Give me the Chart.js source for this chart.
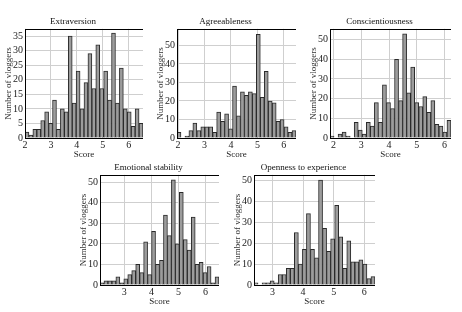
<!DOCTYPE html>
<html>
<head>
<meta charset="utf-8">
<script src="https://cdn.jsdelivr.net/npm/chart.js@4.4.1/dist/chart.umd.min.js"></script>
<style>
  body { margin: 0; background: #fff; width: 462px; height: 312px; position: relative; overflow: hidden; }
  canvas { position: absolute; }
</style>
</head>
<body>
<canvas id="c0"></canvas>
<canvas id="c1"></canvas>
<canvas id="c2"></canvas>
<canvas id="c3"></canvas>
<canvas id="c4"></canvas>
<script>
// data (30 bins each)
const titles = ['Extraversion', 'Agreeableness', 'Conscientiousness', 'Emotional stability', 'Openness to experience'];
const extraversion = [2,1,3,3,6,9,5,13,3,10,9,35,12,23,10,19,29,17,32,17,23,13,36,12,24,10,9,4,10,5];
const agreeableness = [3,0,1,4,8,4,6,6,6,3,14,9,13,5,28,12,25,23,25,24,56,22,36,20,19,9,10,6,3,4];
const conscientiousness = [1,0,2,3,1,0,8,4,2,8,6,18,8,27,18,15,40,19,53,23,36,18,16,21,13,19,7,6,3,9];
const emotionalStability = [1,2,2,2,4,1,3,5,7,10,6,21,5,26,10,12,34,24,51,20,45,22,17,33,10,11,6,9,1,4];
const openness = [1,0,1,1,2,1,5,5,8,8,25,10,17,34,17,13,50,27,16,22,38,23,8,21,11,11,12,10,3,4];
const counts = [extraversion, agreeableness, conscientiousness, emotionalStability, openness];
// score range covered by the bins, count axis top and tick step
const scoreMin = [2.0, 1.96, 1.875, 2.1, 2.4];
const scoreMax = [6.55, 6.46, 6.23, 6.5, 6.35];
const countMax = [37.5, 59, 55.5, 53.5, 52.5];
const countStep = [5, 10, 10, 10, 10];

// plot area boxes on the page: left, top, right, bottom
const boxes = [
  [25, 29, 138, 138],
  [177, 29, 291, 138],
  [330, 29, 446, 138],
  [100, 175, 214, 285],
  [254, 175, 370, 285]
];

const FONT = 'Liberation Serif, Times New Roman, serif';
const yW = 22, xH = 22, titleH = 14.8, rightPad = 5;

const frame = {
  id: 'frame',
  afterDatasetsDraw(chart) {
    const { ctx, chartArea: a } = chart;
    ctx.save();
    ctx.strokeStyle = '#000';
    ctx.lineWidth = 1;
    ctx.strokeRect(Math.round(a.left) + 0.5, Math.round(a.top) + 0.5,
      Math.round(a.right - a.left), Math.round(a.bottom - a.top));
    ctx.restore();
  }
};

function makeChart(i) {
  const [l, t, r, b] = boxes[i];
  const cv = document.getElementById('c' + i);
  cv.width = r - l + yW + rightPad;
  cv.height = Math.round(titleH + (b - t) + xH);
  cv.style.left = (l - yW) + 'px';
  cv.style.top = Math.round(t - titleH) + 'px';

  const step = countStep[i];
  new Chart(cv, {
    type: 'bar',
    data: {
      labels: counts[i].map((_, k) => k),
      datasets: [{
        data: counts[i],
        backgroundColor: '#9c9c9c',
        borderColor: '#2a2a2a',
        borderWidth: 1,
        barPercentage: 1,
        categoryPercentage: 1
      }]
    },
    options: {
      responsive: false,
      animation: false,
      layout: { padding: 0 },
      plugins: {
        legend: { display: false },
        tooltip: { enabled: false },
        title: {
          display: true,
          text: titles[i],
          color: '#111',
          font: { family: FONT, size: 9, weight: 'normal', lineHeight: 1.2 },
          padding: { top: 2, bottom: 2 }
        }
      },
      scales: {
        x: { type: 'category', display: false },
        score: {
          type: 'linear', axis: 'x', position: 'bottom',
          min: scoreMin[i], max: scoreMax[i],
          offset: false,
          ticks: { stepSize: 1, includeBounds: false, autoSkip: false, maxRotation: 0, padding: 1, color: '#222', font: { family: FONT, size: 10 } },
          grid: { color: '#cfcfcf', drawTicks: false, offset: false },
          border: { display: false },
          title: { display: true, text: 'Score', color: '#222', padding: 0, font: { family: FONT, size: 9 } },
          afterBuildTicks(s) {
            s.ticks = s.ticks.filter(tk => Math.abs(tk.value - Math.round(tk.value)) < 1e-6);
          },
          afterFit(s) { s.height = xH; s.paddingLeft = 0; s.paddingRight = 0; }
        },
        y: {
          min: 0, max: countMax[i],
          ticks: { stepSize: step, includeBounds: false, autoSkip: false, padding: 2, color: '#222', font: { family: FONT, size: 10 } },
          grid: { color: '#cfcfcf', drawTicks: false },
          border: { display: false },
          title: { display: true, text: 'Number of vloggers', color: '#333', padding: 0, font: { family: FONT, size: 9 } },
          afterBuildTicks(s) {
            s.ticks = s.ticks.filter(tk => tk.value % step === 0);
          },
          afterFit(s) { s.width = yW; s.paddingTop = 0; s.paddingBottom = 0; }
        }
      }
    },
    plugins: [frame]
  });
}

titles.forEach((_, i) => makeChart(i));
</script>
</body>
</html>
